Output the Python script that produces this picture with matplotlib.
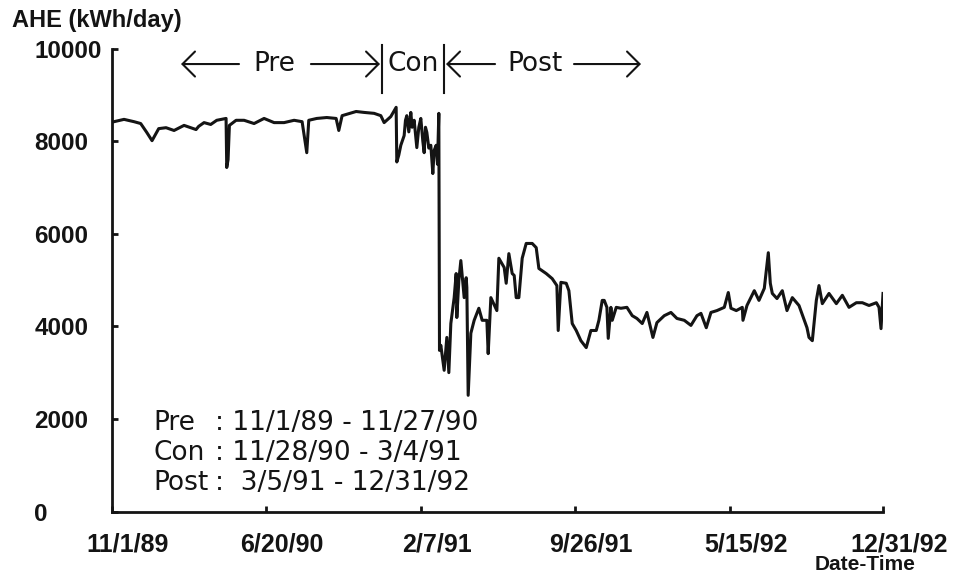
import numpy as np
import pandas as pd
import matplotlib
matplotlib.use('Agg')
import matplotlib.pyplot as plt
import matplotlib.transforms as mtrans

# daily AHE, days counted from 11/1/89
start = pd.Timestamp('1989-11-01')

pre_days = [0, 18, 33, 43, 52, 60, 70, 81, 93, 108,
            118, 126, 130, 138, 148, 157, 171, 172, 174, 176,
            186, 198, 213, 228, 243, 258, 273, 285, 292, 295,
            307, 322, 336, 340, 345, 366, 378, 393, 403, 408,
            418, 426, 427, 430, 433, 438, 440, 442, 445, 448,
            450, 453, 455, 457, 460, 463, 466, 468, 470, 472,
            475, 478, 481, 483, 486, 488, 490]
pre_kwh = [8410, 8470, 8420, 8380, 8190, 8010, 8270, 8290, 8230, 8340,
           8290, 8250, 8320, 8400, 8360, 8450, 8490, 7430, 7600, 8340,
           8450, 8450, 8380, 8490, 8400, 8400, 8450, 8420, 7750, 8450,
           8490, 8510, 8490, 8230, 8550, 8640, 8620, 8600, 8550, 8400,
           8530, 8730, 7550, 7700, 7910, 8120, 8450, 8550, 8200, 8620,
           8300, 8450, 8150, 7860, 8300, 8490, 8000, 7750, 8300, 8190,
           7850, 7910, 7300, 7800, 7910, 7500, 8600]

post_days = [491, 493, 498, 502, 505, 508, 513, 516, 517, 520,
             523, 528, 531, 532, 534, 538, 543, 550, 555, 562,
             564, 568, 577, 580, 588, 591, 595, 600, 603, 606,
             610, 615, 621, 630, 636, 640, 651, 660, 667, 669,
             673, 681, 685, 690, 696, 703, 711, 718, 726, 730,
             735, 738, 742, 744, 748, 750, 756, 763, 772, 780,
             787, 795, 802, 811, 817, 828, 838, 847, 858, 868,
             877, 883, 891, 898, 907, 918, 924, 928, 936, 945,
             946, 952, 963, 970, 978, 984, 987, 990, 997, 1005,
             1012, 1020, 1030, 1038, 1042, 1045, 1050, 1053, 1056, 1060,
             1065, 1075, 1086, 1095, 1105, 1116, 1125, 1135, 1146, 1150,
             1153, 1156]
post_kwh = [3480, 3590, 3050, 3760, 3000, 4060, 4620, 5140, 4190, 4990,
            5420, 4620, 5050, 4840, 2510, 3850, 4130, 4390, 4130, 4130,
            3410, 4620, 4340, 5470, 5270, 4930, 5570, 5140, 5100, 4620,
            4620, 5470, 5790, 5790, 5700, 5250, 5140, 5030, 4880, 3910,
            4950, 4930, 4770, 4060, 3910, 3690, 3540, 3910, 3910, 4130,
            4560, 4560, 4410, 3740, 4410, 4130, 4410, 4390, 4410, 4230,
            4170, 4060, 4300, 3760, 4080, 4230, 4300, 4170, 4130, 4020,
            4230, 4280, 3970, 4300, 4340, 4410, 4730, 4390, 4340, 4410,
            4130, 4450, 4770, 4560, 4820, 5590, 4930, 4710, 4600, 4770,
            4340, 4620, 4450, 4130, 3970, 3760, 3690, 4130, 4560, 4880,
            4490, 4710, 4490, 4670, 4410, 4510, 4510, 4450, 4510, 4410,
            3950, 4710]

tick_labels = ['11/1/89', '6/20/90', '2/7/91', '9/26/91', '5/15/92', '12/31/92']
y_ticks = [0, 2000, 4000, 6000, 8000, 10000]
periods = ['Pre', 'Con', 'Post']
period_ranges = [': 11/1/89 - 11/27/90', ': 11/28/90 - 3/4/91', ':  3/5/91 - 12/31/92']

plt.rcParams['font.family'] = ['Liberation Sans', 'DejaVu Sans']
ink = '#141414'
note_font = 'DejaVu Sans'

days = np.array(pre_days + post_days)
kwh = np.array(pre_kwh + post_kwh)
dates = start + pd.to_timedelta(days, unit='D')

fig = plt.figure(figsize=(9.64, 5.75), dpi=100)
ax = fig.add_axes([0.1162, 0.1104, 0.7998, 0.8052])
ax.plot(dates, kwh, color=ink, lw=2.2)

tick_dates = pd.to_datetime(tick_labels, format='%m/%d/%y')
ax.set_xlim(tick_dates[0], tick_dates[-1])
ax.set_ylim(0, 10000)
ax.set_xticks(tick_dates)
ax.set_xticklabels(tick_labels, fontsize=18, fontweight='bold', color=ink)
ax.set_yticks(y_ticks)
ax.set_yticklabels([str(v) for v in y_ticks], fontsize=17.5, fontweight='bold', color=ink)

for s in ['top', 'right']:
    ax.spines[s].set_visible(False)
for s in ['left', 'bottom']:
    ax.spines[s].set_linewidth(2)
    ax.spines[s].set_color(ink)

ax.tick_params(axis='x', direction='in', length=4, width=2, pad=15, color=ink)
ax.tick_params(axis='y', direction='in', length=4, width=2, pad=56, color=ink)
for lbl in ax.get_yticklabels():
    lbl.set_ha('left')
shift = mtrans.ScaledTranslation(0.16, 0, fig.dpi_scale_trans)
for lbl in ax.get_xticklabels():
    lbl.set_transform(lbl.get_transform() + shift)

# period markers along the top
ay = 0.9665
aprops = dict(arrowstyle='->,head_length=0.6,head_width=0.6', lw=1.5, color=ink,
              shrinkA=0, shrinkB=0, mutation_scale=15)
for tail, head in [(0.1647, 0.0895), (0.258, 0.3476), (0.4968, 0.4332), (0.5992, 0.6861)]:
    ax.annotate('', xy=(head, ay), xytext=(tail, ay), xycoords='axes fraction',
                arrowprops=aprops, annotation_clip=False)
for bx in [0.3502, 0.4306]:
    ax.plot([bx, bx], [0.904, 1.0076], transform=ax.transAxes, color=ink, lw=1.5, clip_on=False)
for name, cx in zip(periods, [0.2100, 0.3904, 0.549]):
    ax.text(cx, ay, name, transform=ax.transAxes, ha='center', va='center',
            fontsize=19, family=note_font, color=ink)

# period date ranges
for i, (name, rng) in enumerate(zip(periods, period_ranges)):
    yy = 0.191 - i * 0.0648
    ax.text(0.0532, yy, name, transform=ax.transAxes, ha='left', va='center',
            fontsize=19, family=note_font, color=ink)
    ax.text(0.1336, yy, rng, transform=ax.transAxes, ha='left', va='center',
            fontsize=19, family=note_font, color=ink)

fig.text(12 / 964, 1 - 20 / 575, 'AHE (kWh/day)', ha='left', va='center',
         fontsize=17, fontweight='bold', color=ink)
fig.text(865 / 964, 1 - 565 / 575, 'Date-Time', ha='center', va='center',
         fontsize=15, fontweight='bold', color=ink)

fig.savefig('out.png', dpi=100, facecolor='white')
